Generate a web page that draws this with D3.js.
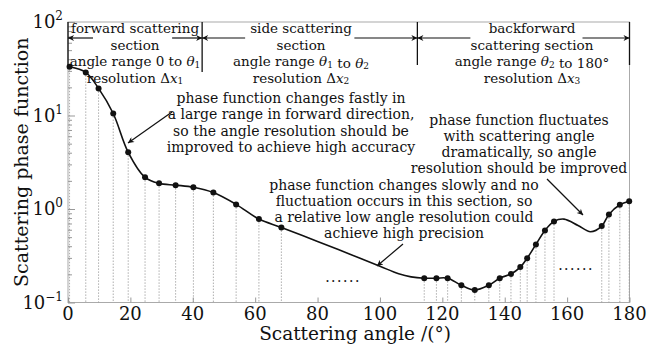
<!DOCTYPE html>
<html><head><meta charset="utf-8">
<script src="https://cdn.jsdelivr.net/npm/d3@7"></script>
<style>
body{margin:0;background:#fff}
svg{display:block}
text{font-family:"DejaVu Serif",serif;fill:#111}
</style>
</head><body>
<svg id="c" width="648" height="344"></svg>
<script>
// ---- data ----
const markerAngles = [0.5,5.7,9.8,14.5,19.3,24.7,29.2,34.5,40.2,46.6,53.9,61.2,68.4,
  114.2,118.1,121.7,126.1,130.4,134.9,138.4,142.0,145.0,147.2,150.0,152.9,155.8,171.1,173.4,176.9,179.9];
const markerValues = [33.2,28.9,19.5,10.5,4.04,2.18,1.88,1.80,1.71,1.50,1.12,0.78,0.635,
  0.182,0.182,0.182,0.153,0.136,0.153,0.182,0.202,0.239,0.298,0.418,0.59,0.737,0.656,0.875,1.11,1.21];
// extra points along the continuous curve (between markers)
const curveExtraAngles = [80,90,100,106,110,159,163.5,167.5];
const curveExtraValues = [0.45,0.332,0.244,0.203,0.188,0.78,0.667,0.571];
const xTicks = [0,20,40,60,80,100,120,140,160,180];
const yTickExps = [2,1,0,-1];
const sectionBounds = [0,43,112,180];
const sectionTexts = [
  ["forward scattering","section","angle range 0 to θ1","resolution Δx1"],
  ["side scattering","section","angle range θ1 to θ2","resolution Δx2"],
  ["backforward","scattering section","angle range θ2 to 180°","resolution Δx3"]
];
const note1 = ["phase function changes fastly in","a large range in forward direction,","so the angle resolution should be","improved to achieve high accuracy"];
const note2 = ["phase function changes slowly and no","fluctuation occurs in this section, so","a relative low angle resolution could","achieve high precision"];
const note3 = ["phase function fluctuates","with scattering angle","dramatically, so angle","resolution should be improved"];

// ---- layout ----
const svg = d3.select("#c");
const L=68, R=629.5, T=22, B=302.5;
const x = d3.scaleLinear().domain([0,180]).range([L,R]);
const y = d3.scaleLog().domain([0.1,100]).range([B,T]);

const defs = svg.append("defs");
defs.append("marker").attr("id","ah").attr("viewBox","0 0 10 10").attr("refX",10).attr("refY",5)
  .attr("markerWidth",10).attr("markerHeight",6).attr("markerUnits","userSpaceOnUse").attr("orient","auto")
  .append("path").attr("d","M0,0L10,5L0,10L3,5Z").attr("fill","#111");

// frame
svg.append("rect").attr("x",L).attr("y",T).attr("width",R-L).attr("height",B-T)
  .attr("fill","none").attr("stroke","#aaa").attr("stroke-width",1);

// ticks (inside)
const yMinor = [];
for (let e=-1;e<2;e++) for (let m=2;m<10;m++) yMinor.push(m*Math.pow(10,e));
svg.append("g").attr("transform",`translate(${L},0)`).call(d3.axisRight(y).tickValues(yTickExps.map(e=>Math.pow(10,e))).tickSize(7).tickFormat(""));
svg.append("g").attr("transform",`translate(${L},0)`).call(d3.axisRight(y).tickValues(yMinor).tickSize(4).tickFormat(""));
svg.append("g").attr("transform",`translate(0,${B})`).call(d3.axisTop(x).tickValues(xTicks).tickSize(5).tickFormat(""));
svg.selectAll(".domain").remove();
svg.selectAll(".tick line").attr("stroke","#999");

// tick labels
xTicks.forEach(v=>{
  svg.append("text").attr("x",x(v)).attr("y",320).attr("text-anchor","middle")
    .attr("font-size",18).text(v);
});
yTickExps.forEach(e=>{
  const t = svg.append("text").attr("x",L-5).attr("y",y(Math.pow(10,e))+6).attr("text-anchor","end").attr("font-size",18);
  t.append("tspan").text("10");
  t.append("tspan").attr("dy",-8).attr("font-size",12).text(e<0?"−"+Math.abs(e):e);
});

// axis titles
svg.append("text").attr("x",355).attr("y",340).attr("text-anchor","middle").attr("font-size",18.5).text("Scattering angle /(°)");
svg.append("text").attr("transform",`translate(28,${(T+B)/2}) rotate(-90)`).attr("text-anchor","middle").attr("font-size",19).text("Scattering phase function");

// drop lines
const pts = markerAngles.map((a,i)=>[a,markerValues[i]]);
svg.append("g").selectAll("line").data(pts).join("line")
  .attr("x1",d=>x(d[0])).attr("x2",d=>x(d[0])).attr("y1",d=>y(d[1])).attr("y2",B)
  .attr("stroke","#999").attr("stroke-width",0.8).attr("stroke-dasharray","1.5,1.5");

// curve
const curvePts = pts.concat(curveExtraAngles.map((a,i)=>[a,curveExtraValues[i]])).sort((p,q)=>p[0]-q[0]);
svg.append("path").datum(curvePts)
  .attr("d",d3.line().x(d=>x(d[0])).y(d=>y(d[1])).curve(d3.curveCatmullRom.alpha(0.5)))
  .attr("fill","none").attr("stroke","#111").attr("stroke-width",1.6);
svg.append("g").selectAll("circle").data(pts).join("circle")
  .attr("cx",d=>x(d[0])).attr("cy",d=>y(d[1])).attr("r",3).attr("fill","#111");

// section brackets
const hy = 38;
[[0,65],[43,72],[112,65],[180,65]].forEach(([a,h])=>{
  svg.append("line").attr("x1",x(a)).attr("x2",x(a)).attr("y1",T).attr("y2",h).attr("stroke","#111").attr("stroke-width",1.3);
});
const arrowSegs = [[x(0)+25,x(0)],[x(43)-30,x(43)],[x(43)+43,x(43)],[x(112)-63,x(112)],[x(112)+53,x(112)],[x(180)-47,x(180)]];
arrowSegs.forEach(([a,b])=>{
  svg.append("line").attr("x1",a).attr("x2",b).attr("y1",hy).attr("y2",hy).attr("stroke","#111").attr("stroke-width",1.2).attr("marker-end","url(#ah)");
});

function richText(sel, s){
  const re = /(θ|Δx)(\d)?/g;
  let last=0, m;
  while((m=re.exec(s))){
    if(m.index>last) sel.append("tspan").text(s.slice(last,m.index));
    if(m[1]==="Δx"){ sel.append("tspan").text("Δ"); sel.append("tspan").attr("font-style","italic").text("x"); }
    else sel.append("tspan").attr("font-style","italic").text("θ");
    if(m[2]){
      const rest = s.slice(re.lastIndex);
      sel.append("tspan").attr("dy",1.5).attr("font-size",9).text(m[2]);
      if(rest.length){ sel.append("tspan").attr("dy",-1.5).text(""); }
    }
    last = re.lastIndex;
  }
  if(last<s.length) sel.append("tspan").text(s.slice(last));
}
const secCenters = [135,301,532];
const baselines = [33,49.5,66,82.5];
sectionTexts.forEach((lines,i)=>{
  lines.forEach((ln,j)=>{
    const t = svg.append("text").attr("x",secCenters[i]).attr("y",baselines[j]).attr("text-anchor","middle").attr("font-size",13.5);
    richText(t, ln);
  });
});

function note(lines,cx,by,dy){
  lines.forEach((ln,j)=>{
    svg.append("text").attr("x",cx).attr("y",by+j*dy).attr("text-anchor","middle").attr("font-size",14).text(ln);
  });
}
note(note1,291,103,16.4);
note(note2,404,190,16);
note(note3,519,125,16);

// annotation arrows
[[[172,112],[128,143]],[[403,244],[377,266]],[[547,179],[583,215]]].forEach(([p,q])=>{
  svg.append("line").attr("x1",p[0]).attr("y1",p[1]).attr("x2",q[0]).attr("y2",q[1])
    .attr("stroke","#111").attr("stroke-width",1.2).attr("marker-end","url(#ah)");
});
// ellipsis dots
svg.append("text").attr("x",343).attr("y",282).attr("text-anchor","middle").attr("font-size",14).attr("letter-spacing",1.5).text("......");
svg.append("text").attr("x",576).attr("y",270).attr("text-anchor","middle").attr("font-size",14).attr("letter-spacing",1.5).text("......");
</script>
</body></html>
